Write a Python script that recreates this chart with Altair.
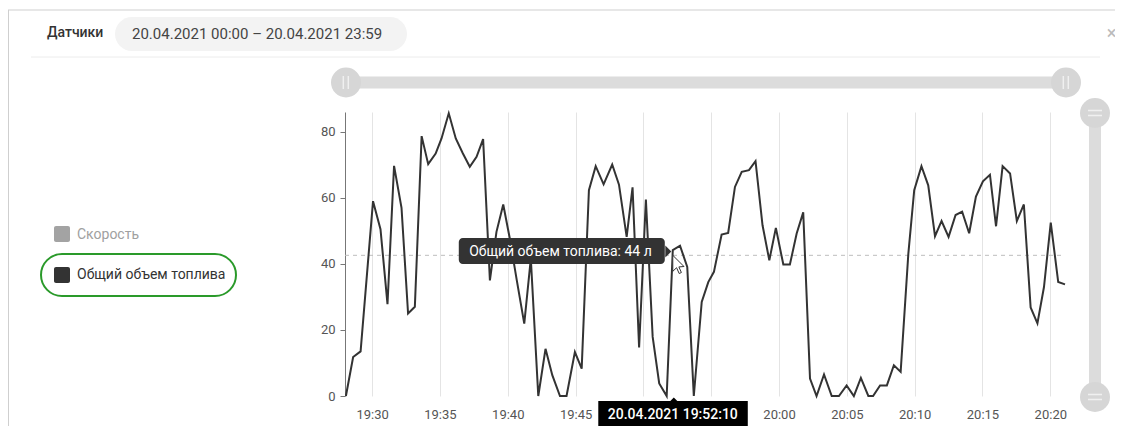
import altair as alt
import pandas as pd

DAY = "2021-04-20"
SERIES = ["Скорость", "Общий объем топлива"]
PERIOD = "20.04.2021 00:00 – 20.04.2021 23:59"
PANEL_TITLE = "Датчики"
UNIT = "л"

times = [
    "19:28:04", "19:28:36", "19:29:09", "19:29:41", "19:30:04", "19:30:37", "19:31:08", "19:31:37", "19:32:10", "19:32:39",
    "19:33:09", "19:33:39", "19:34:08", "19:34:41", "19:35:07", "19:35:39", "19:36:10", "19:36:41", "19:37:12", "19:37:42",
    "19:38:11", "19:38:41", "19:39:10", "19:39:40", "19:40:09", "19:40:40", "19:41:13", "19:41:42", "19:42:15", "19:42:47",
    "19:43:17", "19:43:51", "19:44:20", "19:44:57", "19:45:27", "19:45:59", "19:46:29", "19:47:04", "19:47:42", "19:48:12",
    "19:48:46", "19:49:12", "19:49:41", "19:50:11", "19:50:41", "19:51:10", "19:51:43", "19:52:10", "19:52:42", "19:53:14",
    "19:53:43", "19:54:18", "19:54:47", "19:55:12", "19:55:46", "19:56:15", "19:56:45", "19:57:15", "19:57:47", "19:58:16",
    "19:58:47", "19:59:17", "19:59:46", "20:00:19", "20:00:48", "20:01:18", "20:01:47", "20:02:17", "20:02:46", "20:03:19",
    "20:03:53", "20:04:25", "20:04:59", "20:05:31", "20:06:02", "20:06:35", "20:06:56", "20:07:27", "20:07:57", "20:08:28",
    "20:08:58", "20:09:32", "20:09:58", "20:10:30", "20:11:00", "20:11:30", "20:11:59", "20:12:30", "20:13:01", "20:13:30",
    "20:14:01", "20:14:31", "20:15:02", "20:15:33", "20:16:00", "20:16:29", "20:17:02", "20:17:32", "20:18:03", "20:18:33",
    "20:19:03", "20:19:32", "20:20:02", "20:20:35", "20:21:05",
]

fuel = [
    0, 11.8, 13.5, 40, 59, 50.5, 27.8, 69.7, 57, 25,
    27, 78.7, 70.2, 73.4, 78, 85.6, 78, 73.5, 69.4, 72.4,
    77.8, 35, 49.7, 58, 47.7, 35, 21.9, 41.6, 0, 14.3,
    6.3, 0, 0, 13.3, 8.3, 62.3, 69.6, 64.1, 70.1, 64,
    48.2, 63.2, 14.7, 59.5, 17.9, 3.8, 0, 44.2, 45.5, 39.1,
    0, 28.5, 34.5, 37.6, 48.9, 49.4, 63.3, 67.9, 68.4, 71.1,
    51.7, 41.1, 50.9, 39.8, 39.8, 49.2, 55.6, 5.3, 0, 6.5,
    0, 0, 3.2, 0, 5.5, 0, 0, 3.2, 3.2, 9.3,
    7.3, 43.1, 62.3, 69.6, 63.8, 48.4, 53, 48.2, 54.8, 55.8,
    49.3, 60.4, 65, 67, 51.4, 69.6, 67.4, 53, 58, 26.8,
    22, 33, 52.5, 34.5, 33.8,
]

x_tick_minutes = [(19, 30), (19, 35), (19, 40), (19, 45), (19, 50), (19, 55),
                  (20, 0), (20, 5), (20, 10), (20, 15), (20, 20)]
y_ticks = [0, 20, 40, 60, 80]
y_max = 86
x_start = (19, 28, 0)
x_end = (20, 21, 5)
HOVER_INDEX = 47
CURSOR_VALUE = 42.6


def dt(h, m, s=0):
    return alt.DateTime(year=2021, month=4, date=20, hours=h, minutes=m, seconds=s)


df = pd.DataFrame({"t": [f"{DAY}T{s}" for s in times], "v": fuel})
hover = df.iloc[[HOVER_INDEX]].copy()
hover["label"] = f"{SERIES[1]}: {round(float(hover['v'].iloc[0]))} {UNIT}"
hover["cursor"] = CURSOR_VALUE

FONT = "Roboto"
W, H = 720, 284

x_enc = alt.X(
    "t:T",
    scale=alt.Scale(domain=[dt(*x_start), dt(*x_end)]),
    axis=alt.Axis(
        values=[dt(h, m) for h, m in x_tick_minutes], format="%H:%M", title=None,
        grid=True, gridColor="#e4e4e4", domain=False, ticks=False, labelPadding=12,
        labelFontSize=13, labelColor="#555", labelFont=FONT, labelFlush=False,
    ),
)
y_enc = alt.Y(
    "v:Q",
    scale=alt.Scale(domain=[0, y_max], nice=False),
    axis=alt.Axis(
        values=y_ticks, title=None, grid=False, domainColor="#777", tickColor="#777",
        tickSize=5, labelPadding=5, labelFontSize=13, labelColor="#555", labelFont=FONT,
    ),
)

line = alt.Chart(df).mark_line(color="#333", strokeWidth=2).encode(x=x_enc, y=y_enc)

cross = alt.Chart(hover).mark_rule(color="#bdbdbd", strokeDash=[4, 4], strokeWidth=1).encode(
    y="cursor:Q", x=alt.value(0), x2=alt.value(W)
)

tip_box = alt.Chart(hover).mark_rect(
    color="#333", cornerRadius=4, xOffset=-214, x2Offset=-8, yOffset=-12, y2Offset=14
).encode(x="t:T", x2="t", y="v:Q", y2="v")
tip_arrow = alt.Chart(hover).mark_point(
    shape="M-1,-1L0,0L-1,1Z", filled=True, color="#333", opacity=1, size=144, xOffset=-1.5, yOffset=1.5
).encode(x="t:T", y="v:Q")
tip_text = alt.Chart(hover).mark_text(
    align="right", baseline="middle", dx=-21, dy=2, color="white", fontSize=14, font=FONT
).encode(x="t:T", y="v:Q", text="label:N")

time_box = alt.Chart(hover).mark_rect(color="black", xOffset=-74.5, x2Offset=75).encode(
    x="t:T", x2="t", y=alt.value(289), y2=alt.value(322)
)
time_arrow = alt.Chart(hover).mark_point(
    shape="M-1,0L0,-1L1,0Z", filled=True, color="black", opacity=1, size=64, xOffset=1
).encode(x="t:T", y=alt.value(289.5))
time_text = alt.Chart(hover).mark_text(
    color="white", fontSize=14, fontWeight=500, font=FONT, align="center", baseline="middle"
).encode(x="t:T", y=alt.value(303), text=alt.Text("t:T", format="%d.%m.%Y %H:%M:%S"))

cursor = alt.Chart(hover).mark_point(
    shape="M0,0L0,16L3.8,12.4L6.4,18.2L8.6,17.2L6.1,11.6L11.2,11.2Z",
    filled=True, fill="white", stroke="#333", strokeWidth=1, opacity=1, size=4,
).encode(x="t:T", y="cursor:Q")

one = pd.DataFrame({"k": [0]})


def hrule(x1, x2, y, color, w=1):
    return alt.Chart(one).mark_rule(color=color, strokeWidth=w).encode(
        x=alt.value(x1), x2=alt.value(x2), y=alt.value(y))


def vrule(x, y1, y2, color, w=1):
    return alt.Chart(one).mark_rule(color=color, strokeWidth=w).encode(
        x=alt.value(x), y=alt.value(y1), y2=alt.value(y2))


def box(x1, x2, y1, y2, **kw):
    return alt.Chart(one).mark_rect(**kw).encode(
        x=alt.value(x1), x2=alt.value(x2), y=alt.value(y1), y2=alt.value(y2))


def label(x, y, text, **kw):
    return alt.Chart(one).mark_text(font=FONT, baseline="middle", **kw).encode(
        x=alt.value(x), y=alt.value(y), text=alt.value(text))


def knob(x, y):
    return alt.Chart(one).mark_point(shape="circle", filled=True, color="#d6d6d6", opacity=1, size=900).encode(
        x=alt.value(x), y=alt.value(y))


deco = [
    hrule(-338, 780, -102, "#cfcfcf"),
    vrule(-336.5, -102, 330, "#cfcfcf"),
    label(-298, -79, PANEL_TITLE, fontSize=14, fontWeight=500, color="#333", align="left"),
    box(-230, 62, -95, -61, color="#f3f3f3", cornerRadius=17),
    label(-213, -78, PERIOD, fontSize=15, color="#444", align="left"),
    hrule(-314, 755, -55, "#ececec"),
    label(766.5, -78, "×", fontSize=18, color="#bbb", align="center"),
    # horizontal range slider
    box(1, 721, -35.5, -23.5, color="#dcdcdc"),
    knob(1, -29.5), knob(721, -29.5),
    vrule(-1.7, -36, -23, "#f0f0f0", 1.5), vrule(3.3, -36, -23, "#f0f0f0", 1.5),
    vrule(718.3, -36, -23, "#f0f0f0", 1.5), vrule(723.3, -36, -23, "#f0f0f0", 1.5),
    # vertical range slider
    box(744, 756, 1, 285, color="#dcdcdc"),
    knob(750, 1), knob(750, 285),
    hrule(743, 757, -1.5, "#f0f0f0", 1.5), hrule(743, 757, 3.5, "#f0f0f0", 1.5),
    hrule(743, 757, 282.5, "#f0f0f0", 1.5), hrule(743, 757, 287.5, "#f0f0f0", 1.5),
    # legend
    box(-291, -275, 114, 130, color="#a3a3a3", cornerRadius=2),
    label(-268, 122.5, SERIES[0], fontSize=14, color="#a0a0a0", align="left"),
    box(-291, -275, 155, 171, color="#333", cornerRadius=2),
    label(-268, 163, SERIES[1], fontSize=14, color="#333", align="left"),
    box(-304, -109, 142, 184, fillOpacity=0, stroke="#2a9a2a", strokeWidth=2, cornerRadius=21),
]

chart = alt.layer(
    *deco, cross, line, tip_box, tip_arrow, tip_text, time_box, time_arrow, time_text, cursor
).properties(
    width=W, height=H,
    padding={"left": 337, "top": 104, "right": 50, "bottom": 30},
    autosize=alt.AutoSizeParams(type="none"),
    background="white",
).configure_view(stroke=None)

chart.save("out.html", embed_options={"renderer": "svg", "actions": False})
